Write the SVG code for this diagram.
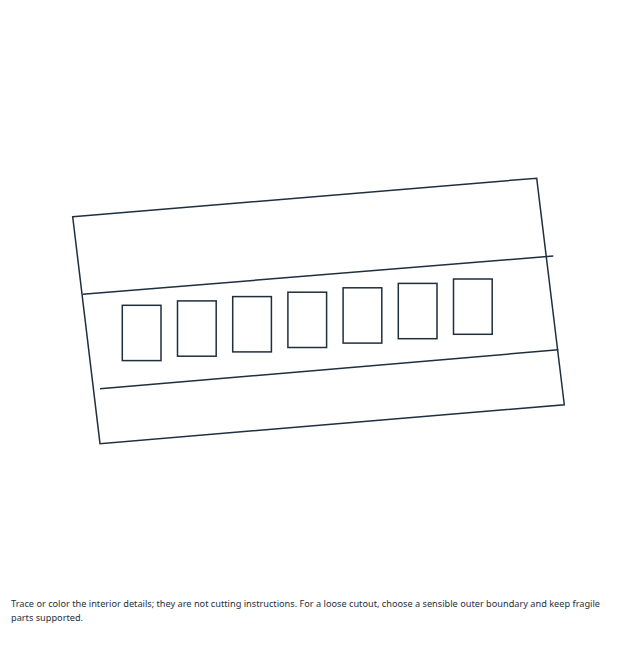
<svg xmlns="http://www.w3.org/2000/svg" width="637" height="660" viewBox="0 0 637 660">
<style>
.s{fill:none;stroke:#1e2f3e;stroke-width:1.5;stroke-linejoin:miter}
.t{font-family:"Noto Sans","Open Sans",sans-serif;font-size:9.2px;fill:#1e2f3e}
</style>
<rect width="637" height="660" fill="#fff"/>
<g id="outline">
<polygon class="s" points="72.7,216.8 536.7,178.2 564.3,404.7 100,443.7"/>
</g>
<g id="bands">
<line class="s" x1="82.7" y1="294.3" x2="553.3" y2="256"/>
<line class="s" x1="100" y1="388.7" x2="558.3" y2="349.8"/>
</g>
<g id="windows">
<rect class="s" x="122.3" y="305.3" width="38.7" height="55.3"/>
<rect class="s" x="177.5" y="300.9" width="38.7" height="55.3"/>
<rect class="s" x="232.7" y="296.6" width="38.7" height="55.3"/>
<rect class="s" x="287.9" y="292.2" width="38.7" height="55.3"/>
<rect class="s" x="343.1" y="287.8" width="38.7" height="55.3"/>
<rect class="s" x="398.3" y="283.4" width="38.7" height="55.3"/>
<rect class="s" x="453.5" y="279" width="38.7" height="55.3"/>
</g>
<g id="caption">
<text class="t" x="11" y="607" textLength="589" lengthAdjust="spacingAndGlyphs">Trace or color the interior details; they are not cutting instructions. For a loose cutout, choose a sensible outer boundary and keep fragile</text>
<text class="t" x="11" y="621">parts supported.</text>
</g>
</svg>
